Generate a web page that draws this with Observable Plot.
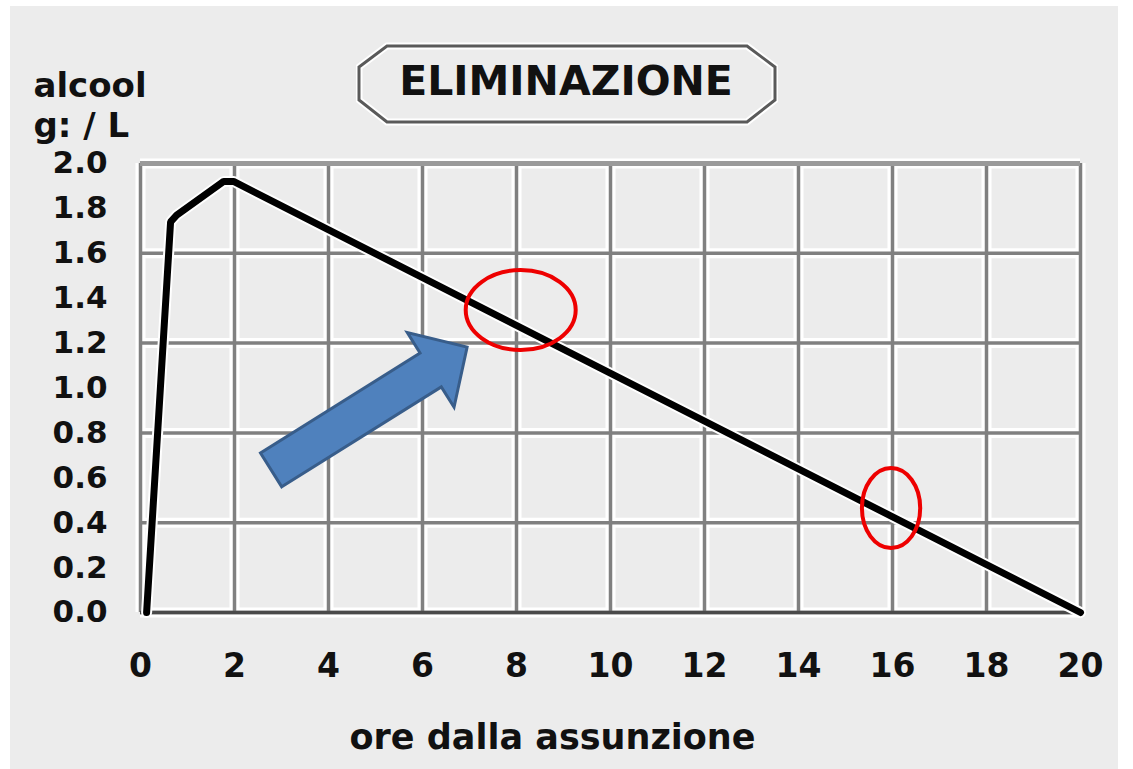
<!DOCTYPE html>
<html><head><meta charset="utf-8">
<script src="https://cdn.jsdelivr.net/npm/d3@7"></script>
<script src="https://cdn.jsdelivr.net/npm/@observablehq/plot@0.6"></script>
<style>
html,body{margin:0;padding:0;background:#fff;}
#wrap{position:relative;width:1133px;height:769px;overflow:hidden;}
#bg{position:absolute;left:10px;top:6px;width:1108px;height:763px;background:#ececec;}
#chart{position:absolute;left:0;top:0;}
#title{position:absolute;left:356px;top:42px;}
</style></head><body>
<div id="wrap"><div id="bg"></div><div id="chart"></div>
<svg id="title" width="422" height="84" style="font-family:'DejaVu Sans',sans-serif">
  <polygon points="31,4 391,4 419,25 419,58 391,80 31,80 3,58 3,25" fill="none" stroke="#fff" stroke-width="7"/>
  <polygon points="31,4 391,4 419,25 419,58 391,80 31,80 3,58 3,25" fill="none" stroke="#5a5a5a" stroke-width="3"/>
  <text id="titleText" x="210" y="53" text-anchor="middle" font-size="41" font-weight="bold" fill="#111"></text>
</svg>
</div>
<script>
// ---- data ----
const title = "ELIMINAZIONE";
const yLabelLines = ["alcool", "g: / L"];
const xLabel = "ore dalla assunzione";
const hours   = [0.13, 0.64, 0.77, 1.77, 1.98, 20];
const alcohol = [0,    1.74, 1.77, 1.92, 1.92, 0];
const xTicks = [0, 2, 4, 6, 8, 10, 12, 14, 16, 18, 20];
const yTicks = [0, 0.2, 0.4, 0.6, 0.8, 1.0, 1.2, 1.4, 1.6, 1.8, 2.0];
const yGrid  = [0, 0.4, 0.8, 1.2, 1.6, 2.0];
// annotations (data coordinates)
const circleX  = [8.1, 15.98];
const circleY  = [1.345, 0.463];
const circleRX = [1.17, 0.62];
const circleRY = [0.178, 0.178];
const arrowFrom = [2.79, 0.633];
const arrowTo   = [6.96, 1.18];

document.getElementById("titleText").textContent = title;

const data = hours.map((h, i) => ({h, a: alcohol[i]}));

const annotations = (index, scales) => {
  const x = scales.x, y = scales.y;
  const g = d3.create("svg:g");
  // arrow
  const T = [x(arrowFrom[0]), y(arrowFrom[1])];
  const P = [x(arrowTo[0]), y(arrowTo[1])];
  const dx = P[0]-T[0], dy = P[1]-T[1], L = Math.hypot(dx, dy);
  const u = [dx/L, dy/L], n = [-u[1], u[0]];
  const w = 20, hw = 44, hl = 43;
  const H = [P[0]-u[0]*hl, P[1]-u[1]*hl];
  const pt = (b, s) => [b[0]+n[0]*s, b[1]+n[1]*s];
  const pts = [pt(T,w), pt(H,w), pt(H,hw), P, pt(H,-hw), pt(H,-w), pt(T,-w)];
  g.append("polygon").attr("points", pts.map(p => p.join(",")).join(" "))
    .attr("fill", "#4f81bd").attr("stroke", "#385d8a").attr("stroke-width", 3).attr("stroke-linejoin", "miter");
  // ellipses
  circleX.forEach((cx, i) => {
    const px = x(cx), py = y(circleY[i]);
    g.append("ellipse").attr("cx", px).attr("cy", py)
      .attr("rx", x(cx + circleRX[i]) - px).attr("ry", py - y(circleY[i] + circleRY[i]))
      .attr("fill", "none").attr("stroke", "#ee0000").attr("stroke-width", 4);
  });
  return g.node();
};

const plot = Plot.plot({
  width: 1133, height: 769,
  marginLeft: 140, marginRight: 53, marginTop: 163, marginBottom: 157,
  x: {domain: [0, 20]},
  y: {domain: [0, 2]},
  style: {fontFamily: "'DejaVu Sans', sans-serif", background: "transparent", color: "#111", overflow: "visible"},
  marks: [
    Plot.ruleX(xTicks, {stroke: "#fff", strokeWidth: 10}),
    Plot.ruleY(yGrid, {stroke: "#fff", strokeWidth: 10}),
    Plot.ruleX(xTicks, {stroke: "#808080", strokeWidth: 3.5}),
    Plot.ruleY(yGrid, {stroke: "#808080", strokeWidth: 3.5}),
    Plot.ruleY([2], {stroke: "#9a9a9a", strokeWidth: 5}),
    Plot.ruleY([0], {stroke: "#4a4a4a", strokeWidth: 3.5}),
    Plot.line(data, {x: "h", y: "a", stroke: "#fff", strokeWidth: 11, strokeLinejoin: "miter"}),
    Plot.line(data, {x: "h", y: "a", stroke: "#000", strokeWidth: 7, strokeLinejoin: "miter"}),
    Plot.axisX({ticks: xTicks, tickSize: 0, tickPadding: 41, fontSize: 33, fontWeight: "bold", tickFormat: d => String(d), label: null}),
    Plot.axisY({ticks: yTicks, tickSize: 0, tickPadding: 33, fontSize: 31, fontWeight: "bold", tickFormat: d3.format(".1f"), label: null}),
    Plot.text([xLabel], {text: d => d, frameAnchor: "bottom", dx: -58, dy: 136, fontSize: 35, fontWeight: "bold"}),
    Plot.text([yLabelLines[0]], {text: d => d, frameAnchor: "top-left", textAnchor: "start", dx: -107, dy: -91, fontSize: 34, fontWeight: "bold"}),
    Plot.text([yLabelLines[1]], {text: d => d, frameAnchor: "top-left", textAnchor: "start", dx: -107, dy: -51, fontSize: 34, fontWeight: "bold"}),
    annotations
  ]
});
document.getElementById("chart").appendChild(plot);
</script>
</body></html>
